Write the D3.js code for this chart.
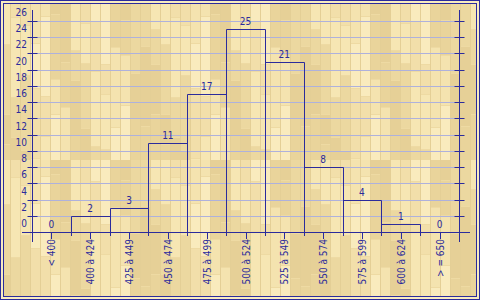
<!DOCTYPE html>
<html lang="fr">
<head>
    <meta charset="UTF-8">
    <title>Histogramme</title>
    <script src="https://cdnjs.cloudflare.com/ajax/libs/d3/7.8.5/d3.min.js"></script>
    <style>
        body { margin: 0; padding: 0; background: #fff; }
        svg { display: block; font-family: "DejaVu Sans Condensed", "DejaVu Sans", Verdana, sans-serif; }
    </style>
</head>
<body>
    <div id="chart"></div>

    <script>
    // Classes and counts
    const categories = ["< 400", "400 à 424", "425 à 449", "450 à 474", "475 à 499",
                        "500 à 524", "525 à 549", "550 à 574", "575 à 599", "600 à 624", "> = 650"];
    const counts = [0, 2, 3, 11, 17, 25, 21, 8, 4, 1, 0];
    const yTicks = [0, 2, 4, 6, 8, 10, 12, 14, 16, 18, 20, 22, 24, 26];

    const W = 480, H = 300;
    const ink = "#2b2b9c";
    const gridColor = "#aeb1dc";
    const fontSize = 10;

    const svg = d3.select("#chart").append("svg")
        .attr("width", W)
        .attr("height", H);

    // Wood parquet background (decoration only)
    const tile = 160;
    const pat = svg.append("defs").append("pattern")
        .attr("id", "wood")
        .attr("patternUnits", "userSpaceOnUse")
        .attr("width", tile)
        .attr("height", tile);
    pat.append("rect").attr("width", tile).attr("height", tile).attr("fill", "#eedaa3");
    const shades = ["#f6e6b3", "#e9d49b", "#f2dfaa", "#e6d097", "#f9ebbd", "#ecd8a0", "#f4e3af"];
    const lengths = [45, 70, 30, 55, 80, 40, 65, 35, 50, 75];
    for (let i = 0; i < tile / 10; i++) {
        let yy = -((i * 37) % 80);
        let k = i * 3;
        while (yy < tile) {
            const len = lengths[k % lengths.length];
            pat.append("rect")
                .attr("x", i * 10)
                .attr("y", yy)
                .attr("width", 10)
                .attr("height", len - 1)
                .attr("fill", shades[(k * 5 + i) % shades.length]);
            yy += len;
            k++;
        }
        pat.append("line")
            .attr("x1", i * 10 + 0.5).attr("x2", i * 10 + 0.5)
            .attr("y1", 0).attr("y2", tile)
            .attr("stroke", "#e4cf96").attr("stroke-width", 1);
    }

    svg.append("rect").attr("width", W).attr("height", H).attr("fill", "#f8ebc0");
    svg.append("rect")
        .attr("x", 3).attr("y", 3)
        .attr("width", W - 6).attr("height", H - 6)
        .attr("fill", "url(#wood)");

    // double frame
    svg.append("rect")
        .attr("x", 0.5).attr("y", 0.5)
        .attr("width", W - 1).attr("height", H - 1)
        .attr("fill", "none").attr("stroke", ink);
    svg.append("rect")
        .attr("x", 3.5).attr("y", 3.5)
        .attr("width", W - 7).attr("height", H - 7)
        .attr("fill", "none").attr("stroke", ink);

    // scales
    const x = d3.scaleBand()
        .domain(categories)
        .range([32, 459])
        .padding(0);

    const y = d3.scaleLinear()
        .domain([0, 26])
        .range([232, 21]);

    const xLeft = 32, xRight = 459, yBase = 232;

    // gridlines
    svg.append("g")
        .selectAll("line")
        .data(yTicks.filter(t => t > 0))
        .join("line")
        .attr("x1", xLeft + 5).attr("x2", xRight - 4)
        .attr("y1", d => Math.round(y(d)) + 0.5)
        .attr("y2", d => Math.round(y(d)) + 0.5)
        .attr("stroke", gridColor)
        .attr("stroke-width", 1);

    // bars (outline only, sides run a bit below the axis)
    svg.append("g")
        .selectAll("path")
        .data(categories.map((c, i) => ({ c, v: counts[i] })).filter(d => d.v > 0))
        .join("path")
        .attr("d", d => {
            const x0 = Math.round(x(d.c)) + 0.5;
            const x1 = Math.round(x(d.c) + x.bandwidth()) + 0.5;
            const yt = Math.round(y(d.v)) + 0.5;
            return `M${x0},${yBase + 4}V${yt}H${x1}V${yBase + 4}`;
        })
        .attr("fill", "none")
        .attr("stroke", ink)
        .attr("stroke-width", 1);

    // value labels
    svg.append("g")
        .selectAll("text")
        .data(categories.map((c, i) => ({ c, v: counts[i] })))
        .join("text")
        .attr("x", d => x(d.c) + x.bandwidth() / 2)
        .attr("y", d => y(d.v) - 4)
        .attr("text-anchor", "middle")
        .attr("font-size", fontSize)
        .attr("fill", ink)
        .text(d => d.v);

    // left and right axes
    [xLeft, xRight].forEach(ax => {
        const g = svg.append("g").attr("transform", `translate(${ax + 0.5},0)`);
        g.append("line")
            .attr("x1", 0).attr("x2", 0)
            .attr("y1", 10).attr("y2", 242)
            .attr("stroke", ink);
        g.selectAll("line.tk")
            .data(yTicks.filter(t => t > 0))
            .join("line")
            .attr("class", "tk")
            .attr("x1", -5).attr("x2", 5)
            .attr("y1", d => Math.round(y(d)) + 0.5)
            .attr("y2", d => Math.round(y(d)) + 0.5)
            .attr("stroke", ink);
    });

    // y labels (sit just above their ticks)
    svg.append("g")
        .selectAll("text")
        .data(yTicks)
        .join("text")
        .attr("x", 27)
        .attr("y", d => y(d) - 5)
        .attr("text-anchor", "end")
        .attr("font-size", fontSize)
        .attr("fill", ink)
        .text(d => d);

    // x axis
    svg.append("line")
        .attr("x1", 22).attr("x2", 470)
        .attr("y1", yBase + 0.5).attr("y2", yBase + 0.5)
        .attr("stroke", ink);

    const xt = svg.append("g")
        .selectAll("g")
        .data(categories)
        .join("g")
        .attr("transform", d => `translate(${Math.round(x(d) + x.bandwidth() / 2) + 0.5},0)`);
    xt.append("line")
        .attr("y1", yBase).attr("y2", yBase + 7)
        .attr("stroke", ink);
    xt.append("text")
        .attr("transform", `translate(0,${yBase + 7}) rotate(-90)`)
        .attr("text-anchor", "end")
        .attr("dy", "0.35em")
        .attr("font-size", fontSize)
        .attr("fill", ink)
        .text(d => d);
    </script>
</body>
</html>
